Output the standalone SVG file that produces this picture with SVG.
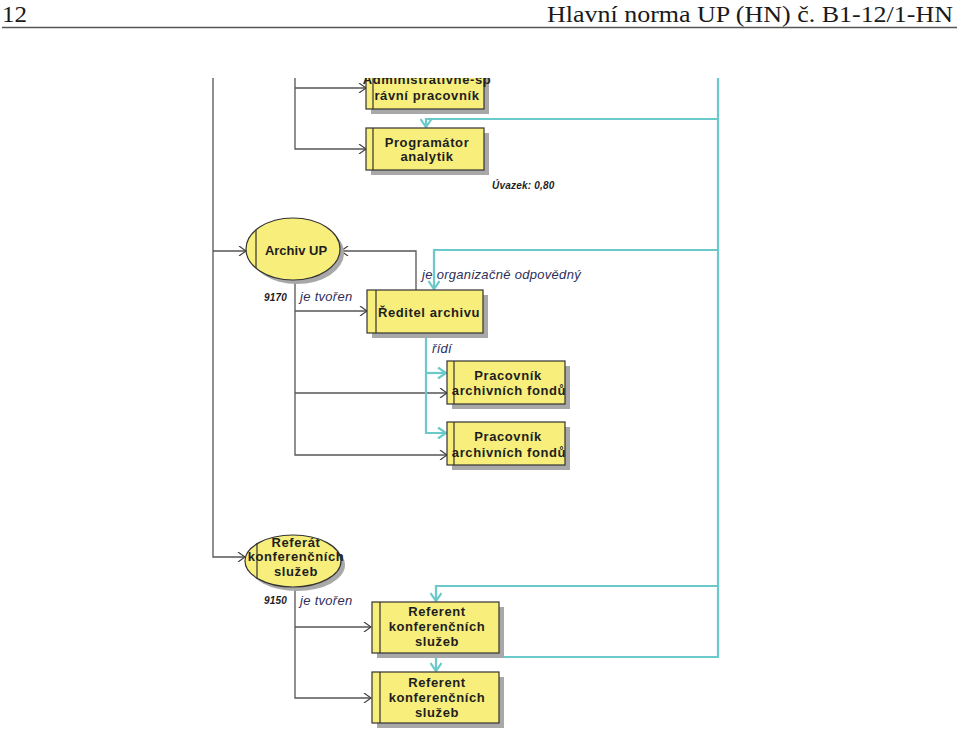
<svg xmlns="http://www.w3.org/2000/svg" width="959" height="750" viewBox="0 0 959 750">
<style>
.hdr{font-family:"Liberation Serif",serif;font-size:24px;fill:#1a1a1a}
.box{fill:#f7ee7c;stroke:#333;stroke-width:1.2}
.sh{fill:#a8a8a8}
.bar{stroke:#333;stroke-width:1.2}
.bt{font-family:"Liberation Sans",Arial,sans-serif;font-size:13px;font-weight:bold;fill:#1e1e1e;text-anchor:middle;letter-spacing:0.6px}
.lab{font-family:"Liberation Sans",Arial,sans-serif;font-size:13px;font-style:italic;fill:#2e2e5a;letter-spacing:0.3px}
.num{font-family:"Liberation Sans",Arial,sans-serif;font-size:10px;font-style:italic;font-weight:bold;fill:#1e1e1e;letter-spacing:0.2px}
.dk{fill:none;stroke:#555;stroke-width:1.3}
.tl{fill:none;stroke:#6cc9c9;stroke-width:2.2}
</style>
<defs>
<marker id="ad" viewBox="0 0 10 10" refX="9" refY="5" markerWidth="10" markerHeight="10" markerUnits="userSpaceOnUse" orient="auto">
<path d="M2,0 L9,5 L2,10" fill="none" stroke="#444" stroke-width="1.2"/>
</marker>
<marker id="at" viewBox="0 0 12 12" refX="10" refY="6" markerWidth="12" markerHeight="12" markerUnits="userSpaceOnUse" orient="auto">
<path d="M2,0.5 L10,6 L2,11.5" fill="none" stroke="#6cc9c9" stroke-width="2.2"/>
</marker>
<clipPath id="clip"><rect x="0" y="78" width="959" height="672"/></clipPath>
</defs>
<g id="header">
<text class="hdr" x="2" y="22" textLength="25" lengthAdjust="spacingAndGlyphs">12</text>
<text class="hdr" x="547" y="22" textLength="406" lengthAdjust="spacingAndGlyphs">Hlavní norma UP (HN) č. B1-12/1-HN</text>
<line x1="2" y1="27.5" x2="957" y2="27.5" stroke="#555" stroke-width="1.5"/>
</g>
<g clip-path="url(#clip)">
<g id="connectors">
<path class="dk" d="M213,70 V557 H245" marker-end="url(#ad)"/>
<path class="dk" d="M213,251 H246" marker-end="url(#ad)"/>
<path class="dk" d="M295,70 V149 H366" marker-end="url(#ad)"/>
<path class="dk" d="M295,88 H366" marker-end="url(#ad)"/>
<path class="dk" d="M416,290 V251 H341" marker-end="url(#ad)"/>
<path class="dk" d="M295,281 V455 H447" marker-end="url(#ad)"/>
<path class="dk" d="M295,311 H367" marker-end="url(#ad)"/>
<path class="dk" d="M295,393 H447" marker-end="url(#ad)"/>
<path class="dk" d="M295,588 V698 H371" marker-end="url(#ad)"/>
<path class="dk" d="M295,627 H371" marker-end="url(#ad)"/>
<path class="tl" d="M718,70 V657 H436 V671" marker-end="url(#at)"/>
<path class="tl" d="M718,119 H426 V127" marker-end="url(#at)"/>
<path class="tl" d="M718,250 H434 V289" marker-end="url(#at)"/>
<path class="tl" d="M718,586 H436 V601" marker-end="url(#at)"/>
<path class="tl" d="M426,334 V433 H446" marker-end="url(#at)"/>
<path class="tl" d="M426,373 H446" marker-end="url(#at)"/>
</g>
<g id="n-admin">
<rect class="sh" x="371" y="60" width="118" height="54"/>
<rect class="box" x="366" y="55" width="118" height="54"/>
<line class="bar" x1="373" y1="55" x2="373" y2="109"/>
<text class="bt" x="427" y="84">Administrativně-sp</text>
<text class="bt" x="427" y="100">rávní pracovník</text>
</g>
</g>
<g id="n-program">
<rect class="sh" x="371" y="133" width="118" height="42"/>
<rect class="box" x="366" y="128" width="118" height="42"/>
<line class="bar" x1="373" y1="128" x2="373" y2="170"/>
<text class="bt" x="427" y="147">Programátor</text>
<text class="bt" x="427" y="161">analytik</text>
</g>
<text class="num" x="492" y="189">Úvazek:  0,80</text>
<g id="n-archiv">
<ellipse class="sh" cx="297" cy="253" rx="47" ry="31"/>
<ellipse class="box" cx="293" cy="249" rx="47" ry="31"/>
<line class="bar" x1="256" y1="230" x2="256" y2="268"/>
<text class="bt" x="296" y="255" style="letter-spacing:0">Archiv UP</text>
</g>
<text class="lab" x="422" y="279">je organizačně odpovědný</text>
<text class="num" x="264" y="301">9170</text>
<text class="lab" x="300" y="301">je tvořen</text>
<g id="n-reditel">
<rect class="sh" x="372" y="295" width="116" height="43"/>
<rect class="box" x="367" y="290" width="116" height="43"/>
<line class="bar" x1="376" y1="290" x2="376" y2="333"/>
<text class="bt" x="429" y="317">Ředitel archivu</text>
</g>
<text class="lab" x="432" y="353">řídí</text>
<g id="n-prac1">
<rect class="sh" x="452" y="366" width="118" height="43"/>
<rect class="box" x="447" y="361" width="118" height="43"/>
<line class="bar" x1="454" y1="361" x2="454" y2="404"/>
<text class="bt" x="508" y="380">Pracovník</text>
<text class="bt" x="509" y="395">archivních fondů</text>
</g>
<g id="n-prac2">
<rect class="sh" x="452" y="427" width="118" height="43"/>
<rect class="box" x="447" y="422" width="118" height="43"/>
<line class="bar" x1="454" y1="422" x2="454" y2="465"/>
<text class="bt" x="508" y="441">Pracovník</text>
<text class="bt" x="509" y="457">archivních fondů</text>
</g>
<g id="n-referat">
<ellipse class="sh" cx="297" cy="565" rx="48" ry="26"/>
<ellipse class="box" cx="293" cy="561" rx="48" ry="26"/>
<line class="bar" x1="257" y1="543" x2="257" y2="579"/>
<text class="bt" x="296" y="547">Referát</text>
<text class="bt" x="296" y="561">konferenčních</text>
<text class="bt" x="296" y="576">služeb</text>
</g>
<text class="num" x="264" y="604">9150</text>
<text class="lab" x="300" y="605">je tvořen</text>
<g id="n-ref1">
<rect class="sh" x="377" y="607" width="127" height="51"/>
<rect class="box" x="372" y="602" width="127" height="51"/>
<line class="bar" x1="380" y1="602" x2="380" y2="653"/>
<text class="bt" x="437" y="616">Referent</text>
<text class="bt" x="437" y="631">konferenčních</text>
<text class="bt" x="437" y="646">služeb</text>
</g>
<g id="n-ref2">
<rect class="sh" x="377" y="677" width="127" height="51"/>
<rect class="box" x="372" y="672" width="127" height="51"/>
<line class="bar" x1="380" y1="672" x2="380" y2="723"/>
<text class="bt" x="437" y="687">Referent</text>
<text class="bt" x="437" y="702">konferenčních</text>
<text class="bt" x="437" y="717">služeb</text>
</g>
</svg>
